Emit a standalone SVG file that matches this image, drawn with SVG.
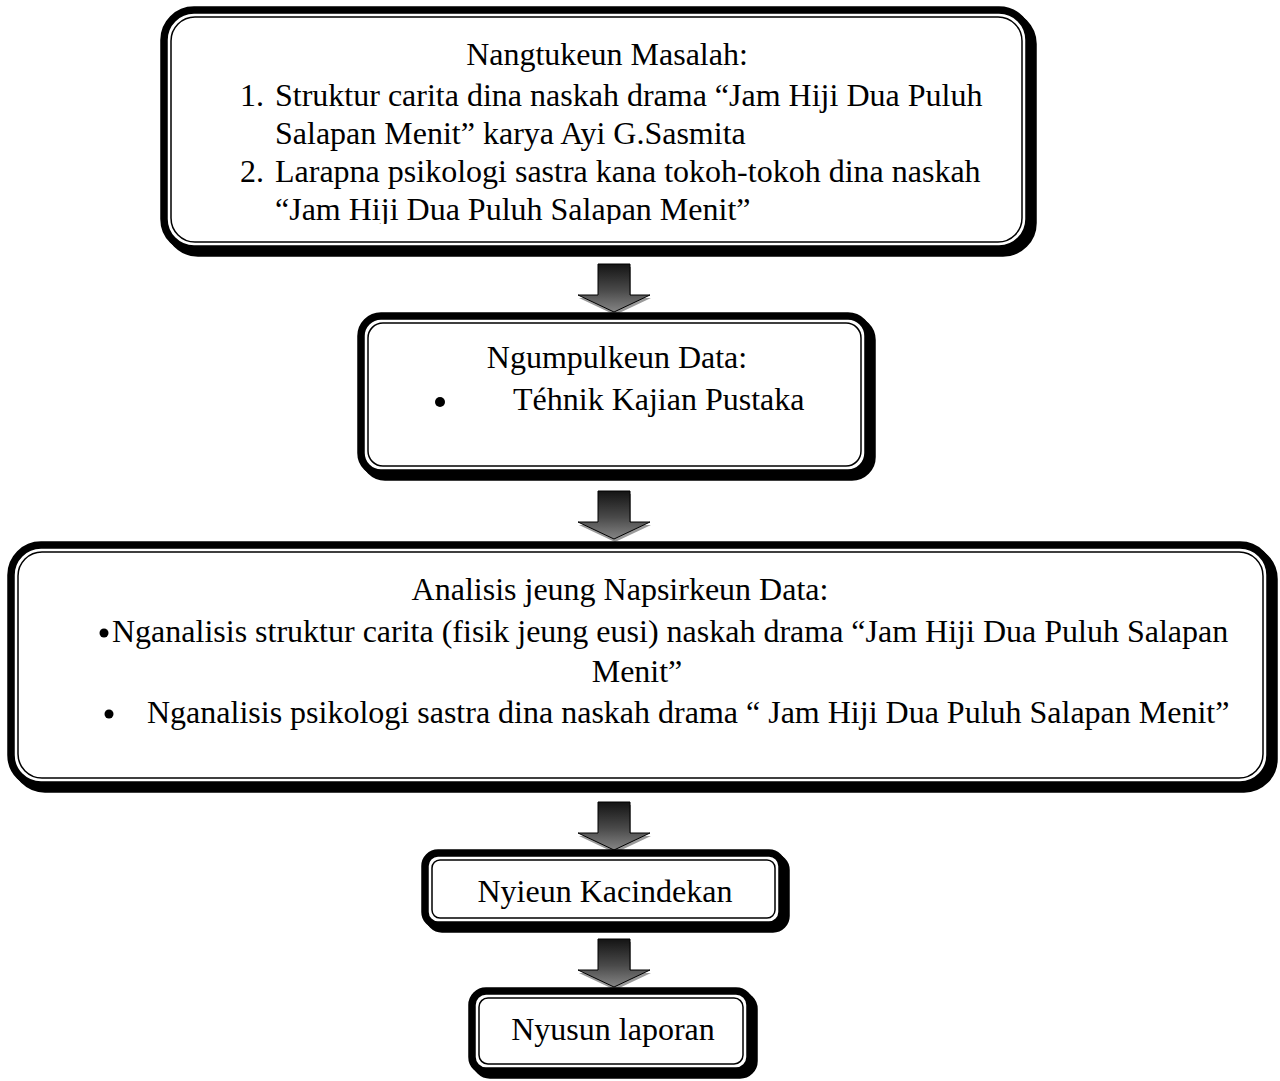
<svg xmlns="http://www.w3.org/2000/svg" xmlns:xlink="http://www.w3.org/1999/xlink" width="1280" height="1081" viewBox="0 0 1280 1081">
<style>
.bg{fill:#fff}
.sh{fill:none;stroke:#000;stroke-width:7.5}
.ob{fill:#fff;stroke:#000;stroke-width:7.5}
.il{fill:none;stroke:#000;stroke-width:1.5}
text{font-family:"Liberation Serif","Times New Roman",serif;font-size:32px;fill:#000}
.c{text-anchor:middle}
.dot{fill:#000}
.arr{fill:url(#ag);stroke:#000;stroke-width:1}
.ash{fill:#9a9a9a;stroke:none}
</style>
<defs>
<linearGradient id="ag" x1="0" y1="0" x2="0" y2="1">
<stop offset="0" stop-color="#141414"/>
<stop offset="0.55" stop-color="#4a4a4a"/>
<stop offset="1" stop-color="#858585"/>
</linearGradient>
<path id="arrow" d="M-16,0 H16 V31 H36 L0,48 L-36,31 H-16 Z"/>
<clipPath id="clip1"><rect x="171" y="17" width="851" height="207"/></clipPath>
</defs>
<rect class="bg" x="0" y="0" width="1280" height="1081"/>

<g id="connectors">
<use href="#arrow" class="ash" x="615" y="267"/>
<use href="#arrow" class="arr" x="614" y="264"/>
<use href="#arrow" class="ash" x="615" y="494"/>
<use href="#arrow" class="arr" x="614" y="491"/>
<use href="#arrow" class="ash" x="615" y="805"/>
<use href="#arrow" class="arr" x="614" y="802"/>
<use href="#arrow" class="ash" x="615" y="942"/>
<use href="#arrow" class="arr" x="614" y="939"/>
</g>

<g id="node1">
<rect class="sh" x="168" y="14" width="865" height="239" rx="30"/>
<rect class="ob" x="164" y="10" width="865" height="239" rx="30"/>
<rect class="il" x="171" y="17" width="851" height="225" rx="24"/>
<g clip-path="url(#clip1)">
<text class="c" x="607" y="65">Nangtukeun Masalah:</text>
<text x="240" y="106">1.</text>
<text x="275" y="106">Struktur carita dina naskah drama “Jam Hiji Dua Puluh</text>
<text x="275" y="144">Salapan Menit” karya Ayi G.Sasmita</text>
<text x="240" y="182">2.</text>
<text x="275" y="182">Larapna psikologi sastra kana tokoh-tokoh dina naskah</text>
<text x="275" y="220">“Jam Hiji Dua Puluh Salapan Menit”</text>
</g>
</g>

<g id="node2">
<rect class="sh" x="365" y="320" width="507" height="157" rx="20"/>
<rect class="ob" x="361" y="316" width="507" height="157" rx="20"/>
<rect class="il" x="368" y="323" width="493" height="143" rx="15"/>
<text class="c" x="617" y="368">Ngumpulkeun Data:</text>
<circle class="dot" cx="440" cy="402" r="5"/>
<text x="513" y="410">Téhnik Kajian Pustaka</text>
</g>

<g id="node3">
<rect class="sh" x="15" y="549" width="1259" height="240" rx="30"/>
<rect class="ob" x="11" y="545" width="1259" height="240" rx="30"/>
<rect class="il" x="18" y="552" width="1245" height="226" rx="24"/>
<text class="c" x="620" y="600">Analisis jeung Napsirkeun Data:</text>
<circle class="dot" cx="104" cy="633" r="4.5"/>
<text x="112" y="642">Nganalisis struktur carita (fisik jeung eusi) naskah drama “Jam Hiji Dua Puluh Salapan</text>
<text class="c" x="637" y="682">Menit”</text>
<circle class="dot" cx="109" cy="714" r="4.5"/>
<text x="147" y="723">Nganalisis psikologi sastra dina naskah drama “ Jam Hiji Dua Puluh Salapan Menit”</text>
</g>

<g id="node4">
<rect class="sh" x="429" y="857" width="357" height="72" rx="13"/>
<rect class="ob" x="425" y="853" width="357" height="72" rx="13"/>
<rect class="il" x="432" y="860" width="343" height="58" rx="8"/>
<text class="c" x="605" y="902">Nyieun Kacindekan</text>
</g>

<g id="node5">
<rect class="sh" x="476" y="995" width="278" height="80" rx="14"/>
<rect class="ob" x="472" y="991" width="278" height="80" rx="14"/>
<rect class="il" x="479" y="998" width="264" height="66" rx="9"/>
<text class="c" x="613" y="1040">Nyusun laporan</text>
</g>
</svg>
